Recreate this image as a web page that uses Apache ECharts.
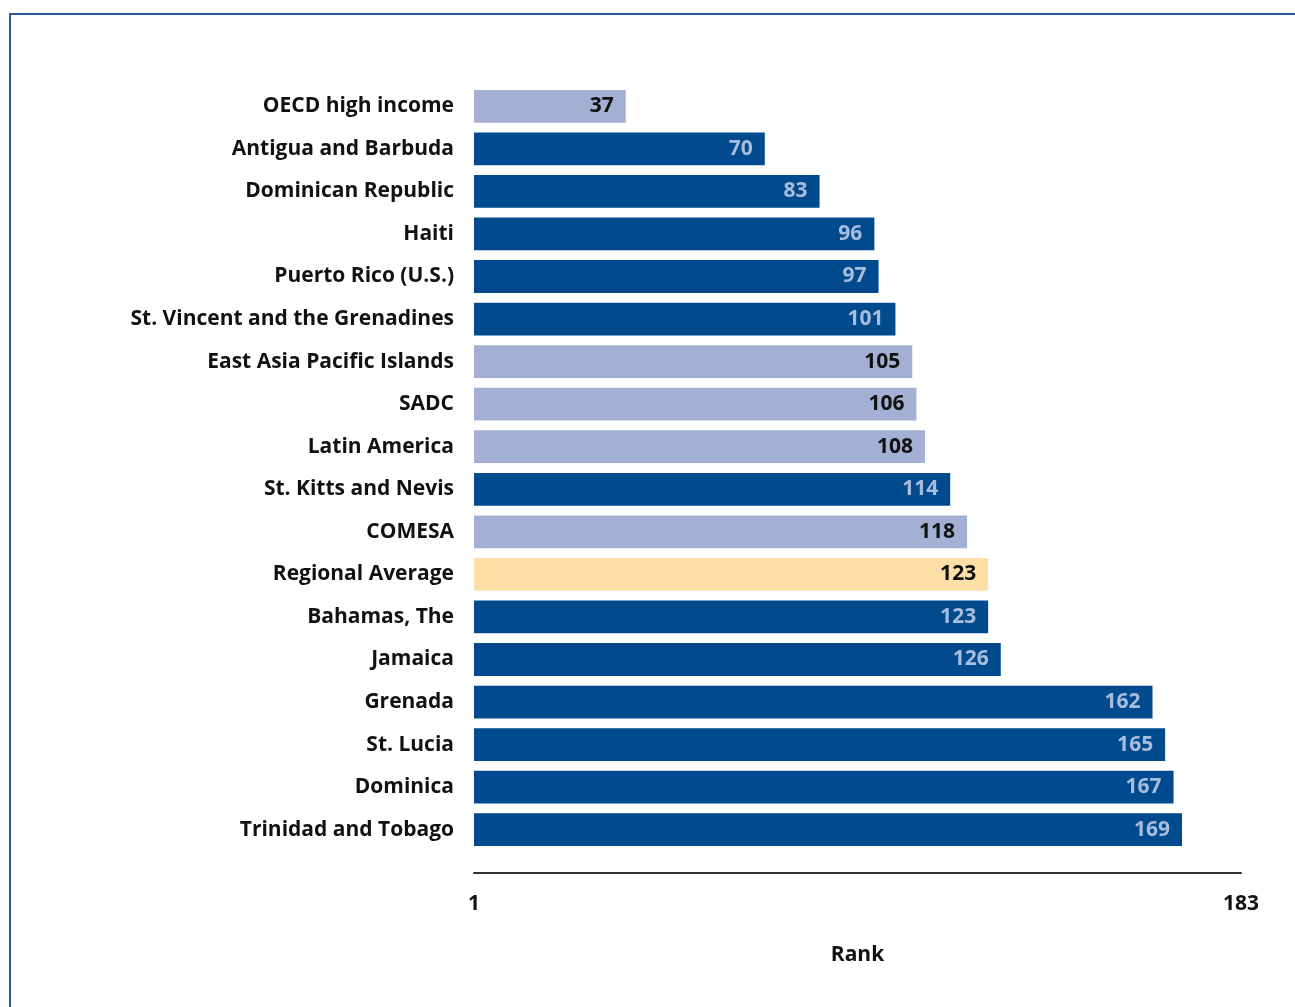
<!DOCTYPE html>
<html>
<head>
<meta charset="utf-8">
<script src="https://cdn.jsdelivr.net/npm/echarts@6/dist/echarts.min.js"></script>
<style>
  html, body { margin: 0; padding: 0; background: #fff; }
  #main { width: 1295px; height: 1007px; }
</style>
</head>
<body>
<div id="main"></div>
<script>
// economies, top to bottom
var economies = ['OECD high income', 'Antigua and Barbuda', 'Dominican Republic', 'Haiti',
    'Puerto Rico (U.S.)', 'St. Vincent and the Grenadines', 'East Asia Pacific Islands', 'SADC',
    'Latin America', 'St. Kitts and Nevis', 'COMESA', 'Regional Average', 'Bahamas, The',
    'Jamaica', 'Grenada', 'St. Lucia', 'Dominica', 'Trinidad and Tobago'];
var ranks = [37, 70, 83, 96, 97, 101, 105, 106, 108, 114, 118, 123, 123, 126, 162, 165, 167, 169];
// c = economy, g = comparator group, a = regional average
var kinds = ['g', 'c', 'c', 'c', 'c', 'c', 'g', 'g', 'g', 'c', 'g', 'a', 'c', 'c', 'c', 'c', 'c', 'c'];
var axisEnds = [1, 183];

var fill = { c: '#004A8D', g: '#A3B0D4', a: '#FFDFA8' };
var txt = { c: '#A8BDDD', g: '#111111', a: '#111111' };

var chart = echarts.init(document.getElementById('main'));
var option = {
    animation: false,
    textStyle: { fontFamily: 'Open Sans' },
    graphic: [
        { type: 'line', shape: { x1: 9, y1: 14, x2: 1295, y2: 14 }, style: { stroke: '#2A5C9B', lineWidth: 2 } },
        { type: 'line', shape: { x1: 10, y1: 14, x2: 10, y2: 1007 }, style: { stroke: '#2A5C9B', lineWidth: 2 } }
    ],
    grid: { left: 474, right: 54, top: 85, bottom: 156 },
    xAxis: {
        type: 'value',
        min: axisEnds[0],
        max: axisEnds[1],
        offset: 22,
        splitLine: { show: false },
        axisTick: { show: false },
        axisLine: { show: true, lineStyle: { color: '#333', width: 2 } },
        axisLabel: {
            customValues: axisEnds,
            margin: 21,
            fontSize: 21,
            fontWeight: 'bold',
            color: '#111'
        },
        name: 'Rank',
        nameLocation: 'middle',
        nameGap: 72,
        nameTextStyle: { fontSize: 21, fontWeight: 'bold', color: '#111' }
    },
    yAxis: {
        type: 'category',
        inverse: true,
        data: economies,
        axisLine: { show: false },
        axisTick: { show: false },
        axisLabel: { margin: 20, fontSize: 21, fontWeight: 'bold', color: '#111' }
    },
    series: [{
        type: 'bar',
        barCategoryGap: '23%',
        data: ranks.map(function (v, i) {
            return {
                value: v,
                itemStyle: { color: fill[kinds[i]] },
                label: { color: txt[kinds[i]] }
            };
        }),
        label: {
            show: true,
            position: 'insideRight',
            distance: 12,
            fontSize: 21,
            fontWeight: 'bold'
        }
    }]
};
chart.setOption(option);
</script>
</body>
</html>
